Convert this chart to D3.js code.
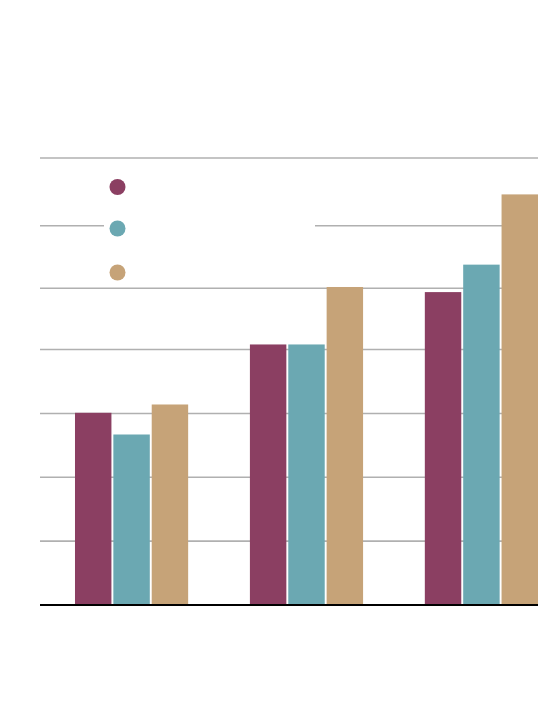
<!DOCTYPE html>
<html>
<head>
<meta charset="utf-8">
<script src="https://cdnjs.cloudflare.com/ajax/libs/d3/7.8.5/d3.min.js"></script>
<style>
  body { margin: 0; background: #fff; }
</style>
</head>
<body>
<div id="chart"></div>
<script>
// values (no labels are shown)
var groups = ["A", "B", "C"];
var seriesNames = ["s1", "s2", "s3"];
var s1 = [30.1, 40.8, 49.0];
var s2 = [26.7, 40.8, 53.3];
var s3 = [31.4, 49.8, 64.3];
var gridTicks = [10, 20, 30, 40, 49.6, 59.4, 70];

var colors = ["#8b3f62", "#6ba8b2", "#c6a378"];
var seriesValues = [s1, s2, s3];

var width = 560, height = 704;
var margin = {top: 158, right: 22, bottom: 99, left: 40};

var svg = d3.select("#chart").append("svg")
    .attr("width", width)
    .attr("height", height);

var x0 = d3.scaleBand()
    .domain(groups)
    .range([margin.left, width - margin.right])
    .paddingInner(0.353)
    .paddingOuter(0.1)
    .align(1);

var x1 = d3.scaleBand()
    .domain(seriesNames)
    .range([0, x0.bandwidth()])
    .paddingInner(0.05);

var y = d3.scaleLinear()
    .domain([0, 70])
    .range([height - margin.bottom, margin.top]);

// gridlines
svg.append("g")
    .attr("class", "grid")
    .selectAll("line")
    .data(gridTicks)
    .enter().append("line")
    .attr("x1", margin.left)
    .attr("x2", width - margin.right)
    .attr("y1", function (d) { return y(d); })
    .attr("y2", function (d) { return y(d); })
    .attr("stroke", "#b0b0b0")
    .attr("stroke-width", 1.6);

// bars
var table = groups.map(function (g, i) {
    return seriesNames.map(function (s, j) {
        return {group: g, series: s, value: seriesValues[j][i], color: colors[j]};
    });
});

svg.append("g")
    .selectAll("g")
    .data(table)
    .enter().append("g")
    .attr("transform", function (d) { return "translate(" + x0(d[0].group) + ",0)"; })
    .selectAll("rect")
    .data(function (d) { return d; })
    .enter().append("rect")
    .attr("x", function (d) { return x1(d.series); })
    .attr("y", function (d) { return y(d.value); })
    .attr("width", x1.bandwidth())
    .attr("height", function (d) { return y(0) - y(d.value); })
    .attr("fill", function (d) { return d.color; });

// baseline
svg.append("line")
    .attr("x1", margin.left)
    .attr("x2", width - margin.right)
    .attr("y1", y(0))
    .attr("y2", y(0))
    .attr("stroke", "#000")
    .attr("stroke-width", 2);

// legend (white box over the grid, dots only)
var legend = svg.append("g");
legend.append("rect")
    .attr("x", 104)
    .attr("y", 166)
    .attr("width", 211)
    .attr("height", 116)
    .attr("fill", "#fff");

legend.selectAll("circle")
    .data(colors)
    .enter().append("circle")
    .attr("cx", 117.5)
    .attr("cy", function (d, i) { return [187, 228.5, 272.5][i]; })
    .attr("r", 8)
    .attr("fill", function (d) { return d; });
</script>
</body>
</html>
